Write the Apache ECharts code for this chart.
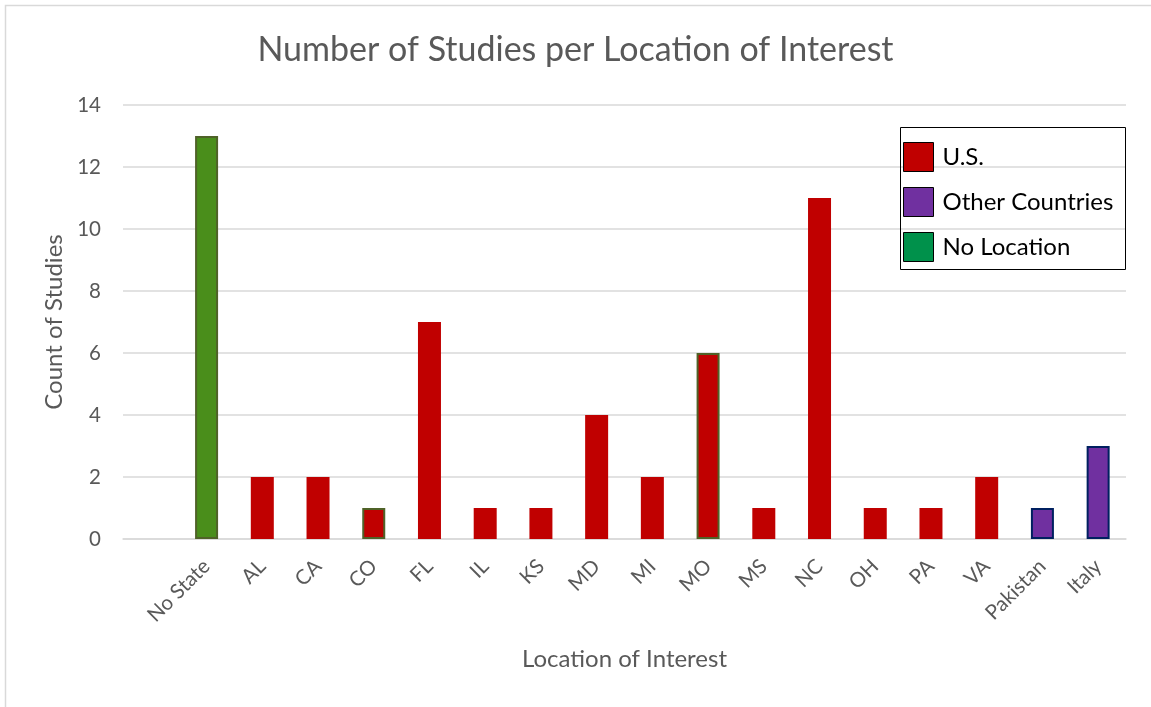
<!DOCTYPE html>
<html>
<head>
<meta charset="utf-8">
<script src="https://cdn.jsdelivr.net/npm/echarts@6/dist/echarts.min.js"></script>
<style>
  html, body { margin: 0; padding: 0; background: #fff; }
  #chart { width: 1151px; height: 707px; }
</style>
</head>
<body>
<div id="chart"></div>
<script>
// categories (first slot is the empty one Excel left in front)
var categories = ['', 'No State', 'AL', 'CA', 'CO', 'FL', 'IL', 'KS', 'MD', 'MI', 'MO', 'MS', 'NC', 'OH', 'PA', 'VA', 'Pakistan', 'Italy'];
var counts     = [null, 13, 2, 2, 1, 7, 1, 1, 4, 2, 6, 1, 11, 1, 1, 2, 1, 3];
var groups     = [null, 'No Location', 'U.S.', 'U.S.', 'U.S.', 'U.S.', 'U.S.', 'U.S.', 'U.S.', 'U.S.', 'U.S.', 'U.S.', 'U.S.', 'U.S.', 'U.S.', 'U.S.', 'Other Countries', 'Other Countries'];
var greenEdged = ['CO', 'MO'];
var yTicks     = [0, 2, 4, 6, 8, 10, 12, 14];

var seriesNames = ['U.S.', 'Other Countries', 'No Location'];
var seriesColors = { 'U.S.': '#C00000', 'Other Countries': '#7030A0', 'No Location': '#00914B' };

function buildData(name) {
    return counts.map(function (v, i) {
        if (groups[i] !== name) return null;
        var item = { value: v };
        if (name === 'No Location') {
            item.itemStyle = { color: '#4A8E1B', borderColor: '#4F6228', borderWidth: 2 };
        } else if (name === 'Other Countries') {
            item.itemStyle = { borderColor: '#002060', borderWidth: 2 };
        } else if (greenEdged.indexOf(categories[i]) >= 0) {
            item.itemStyle = { borderColor: '#4F6228', borderWidth: 2 };
        }
        return item;
    });
}

var chart = echarts.init(document.getElementById('chart'));
var font = 'Lato, "Open Sans", sans-serif';

chart.setOption({
    animation: false,
    textStyle: { fontFamily: font },
    title: {
        text: 'Number of Studies per Location of Interest',
        left: 'center',
        top: 28,
        textStyle: { fontSize: 34, fontWeight: 'normal', color: '#595959', fontFamily: font }
    },
    legend: {
        orient: 'vertical',
        left: 903,
        top: 142,
        padding: 0,
        itemWidth: 30,
        itemHeight: 29,
        itemGap: 15,
        icon: 'rect',
        data: seriesNames,
        itemStyle: { borderColor: '#000', borderWidth: 1 },
        textStyle: { fontSize: 24, color: '#000', fontFamily: font, padding: [0, 0, 0, 4] }
    },
    grid: { left: 123, right: 25, top: 105, bottom: 168 },
    xAxis: {
        type: 'category',
        data: categories,
        name: 'Location of Interest',
        nameLocation: 'middle',
        nameGap: 108,
        nameTextStyle: { fontSize: 24, color: '#595959' },
        axisLine: { lineStyle: { color: '#d9d9d9', width: 1.5 } },
        axisTick: { show: false },
        axisLabel: { rotate: 45, fontSize: 20.5, color: '#595959', margin: 24, interval: 0 }
    },
    yAxis: {
        type: 'value',
        min: yTicks[0],
        max: yTicks[yTicks.length - 1],
        interval: 2,
        name: 'Count of Studies',
        nameLocation: 'middle',
        nameGap: 56,
        nameTextStyle: { fontSize: 24, color: '#595959' },
        axisLabel: { fontSize: 20.5, color: '#595959', margin: 22 },
        splitLine: { lineStyle: { color: '#d9d9d9', width: 1.5 } },
        axisLine: { show: false },
        axisTick: { show: false }
    },
    graphic: [
        { type: 'rect', shape: { x: 5.5, y: 5.5, width: 1200, height: 760 }, style: { fill: 'none', stroke: '#d9d9d9', lineWidth: 1.5 }, silent: true },
        { type: 'rect', shape: { x: 900.5, y: 127.5, width: 225, height: 142 }, style: { fill: 'none', stroke: '#000', lineWidth: 1 }, silent: true, z: 10 }
    ],
    series: seriesNames.map(function (name) {
        return {
            name: name,
            type: 'bar',
            stack: 'all',
            barWidth: 23,
            itemStyle: { color: seriesColors[name] },
            data: buildData(name)
        };
    })
});
</script>
</body>
</html>
